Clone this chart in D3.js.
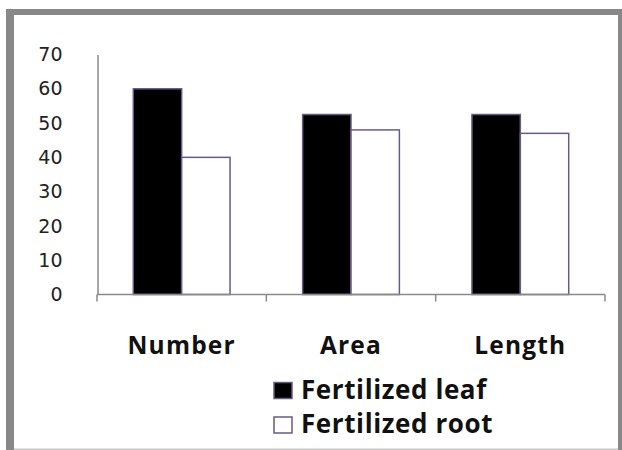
<!DOCTYPE html>
<html>
<head>
<meta charset="utf-8">
<script src="https://cdn.jsdelivr.net/npm/d3@7"></script>
<style>
  html, body { margin: 0; padding: 0; background: #fff; }
  svg { display: block; }
</style>
</head>
<body>
<svg id="chart" width="622" height="450"></svg>
<script>
const categories = ["Number", "Area", "Length"];
const seriesNames = ["Fertilized leaf", "Fertilized root"];
const leafValues = [60, 52.5, 52.5];
const rootValues = [40, 48, 47];
const yTicks = [0, 10, 20, 30, 40, 50, 60, 70];

const svg = d3.select("#chart");
const W = 622, H = 450;

// frame
svg.append("rect").attr("x", 0).attr("y", 0).attr("width", W).attr("height", H).attr("fill", "#fff");
svg.append("rect").attr("x", 6).attr("y", 9).attr("width", 616).attr("height", 6).attr("fill", "#888");
svg.append("rect").attr("x", 6).attr("y", 9).attr("width", 8).attr("height", 441).attr("fill", "#888");
svg.append("rect").attr("x", 618).attr("y", 9).attr("width", 4).attr("height", 441).attr("fill", "#888");
svg.append("rect").attr("x", 14).attr("y", 448.5).attr("width", 604).attr("height", 1.5).attr("fill", "#c8c8c8");

const x0 = d3.scaleBand().domain(categories).range([97, 605]).padding(0);
const x1 = d3.scaleBand().domain(seriesNames).range([0, x0.bandwidth()]).paddingInner(0).paddingOuter(0.75);
const y = d3.scaleLinear().domain([0, 70]).range([294.5, 54.5]);

const rows = categories.map((c, i) => ({ cat: c, vals: [leafValues[i], rootValues[i]] }));

// bars
const g = svg.append("g");
rows.forEach(r => {
  r.vals.forEach((v, j) => {
    g.append("rect")
      .attr("x", x0(r.cat) + x1(seriesNames[j]))
      .attr("y", y(v))
      .attr("width", x1.bandwidth())
      .attr("height", y(0) - y(v))
      .attr("fill", j === 0 ? "#000" : "#fff")
      .attr("stroke", "#6a5a86")
      .attr("stroke-width", 1.5);
  });
});

// y axis
const yAxis = d3.axisLeft(y).tickValues(yTicks).tickSize(0).tickPadding(35).tickFormat(d3.format("d"));
const ya = svg.append("g").attr("transform", "translate(97.5,0)").call(yAxis);
ya.select(".domain").attr("stroke", "#8a8a8a").attr("stroke-width", 1.5);
ya.selectAll("text").attr("font-family", "DejaVu Sans").attr("font-size", 19).attr("fill", "#222");

// x axis
const xa = svg.append("g");
xa.append("line").attr("x1", 97).attr("x2", 605).attr("y1", y(0)).attr("y2", y(0)).attr("stroke", "#8a8a8a").attr("stroke-width", 1.5);
const tickXs = categories.map(c => x0(c)).concat([x0.range()[1]]);
tickXs.forEach(t => {
  xa.append("line").attr("x1", t).attr("x2", t).attr("y1", y(0)).attr("y2", y(0) + 7).attr("stroke", "#8a8a8a").attr("stroke-width", 1.5);
});
categories.forEach(c => {
  xa.append("text")
    .attr("x", x0(c) + x0.bandwidth() / 2)
    .attr("y", 354)
    .attr("text-anchor", "middle")
    .attr("font-family", "Open Sans")
    .attr("font-weight", "bold")
    .attr("font-size", 24.5)
    .attr("letter-spacing", 1.2)
    .attr("fill", "#111")
    .text(c);
});

// legend
const leg = svg.append("g");
seriesNames.forEach((s, j) => {
  const by = 398.5 + j * 34.5;
  leg.append("rect")
    .attr("x", 274).attr("y", by - 16)
    .attr("width", 18).attr("height", 16)
    .attr("fill", j === 0 ? "#000" : "#fff")
    .attr("stroke", "#6a5a86").attr("stroke-width", 1.5);
  leg.append("text")
    .attr("x", 301)
    .attr("y", by)
    .attr("font-family", "Open Sans")
    .attr("font-weight", "bold")
    .attr("font-size", 26)
    .attr("letter-spacing", 0.6)
    .attr("fill", "#111")
    .text(s);
});
</script>
</body>
</html>
